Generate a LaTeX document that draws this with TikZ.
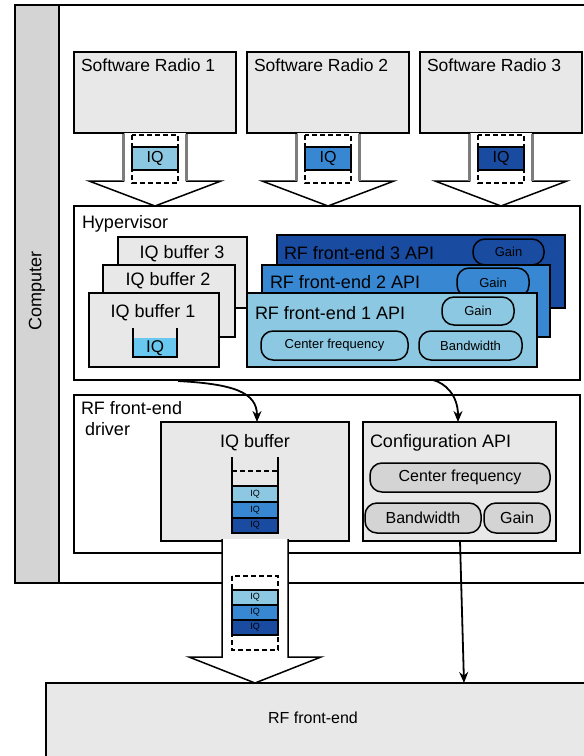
\documentclass[tikz,border=0pt]{standalone}
\usepackage{fontspec}
\setmainfont{Liberation Sans}
\usetikzlibrary{arrows.meta,calc}

\definecolor{boxgray}{RGB}{232,232,232}
\definecolor{stripgray}{RGB}{212,212,212}
\definecolor{blueA}{RGB}{140,200,225}
\definecolor{blueB}{RGB}{55,135,210}
\definecolor{blueC}{RGB}{25,75,160}
\definecolor{iqcyan}{RGB}{105,200,240}
\definecolor{shaftgray}{RGB}{125,125,125}

\tikzset{
  every node/.style={inner sep=0pt, outer sep=0pt},
  box/.style={draw=black, line width=1.7pt, fill=boxgray, anchor=north west},
  plainbox/.style={draw=black, line width=1.7pt, fill=white, anchor=north west},
  pill/.style={draw=black, line width=1.5pt, rounded corners=12pt, anchor=north west},
  lbl/.style={font=\fontsize{18}{21}\selectfont, anchor=west},
  clbl/.style={font=\fontsize{18}{21}\selectfont},
  small/.style={font=\fontsize{13}{15}\selectfont},
  mid/.style={font=\fontsize{16}{18}\selectfont},
  tiny/.style={font=\fontsize{9}{10}\selectfont},
  link/.style={line width=1.8pt, -{Stealth[length=11pt,width=9pt]}},
  blockarrow/.style={draw=black, line width=1.5pt, fill=white},
  cell/.style={draw=black, line width=1.3pt},
  dashbox/.style={draw=black, line width=1.4pt, dash pattern=on 5pt off 3pt},
}

\begin{document}
\begin{tikzpicture}[x=1pt,y=-1pt]
\useasboundingbox (0,0) rectangle (584,756);
\clip (0,0) rectangle (584,756);

% computer enclosure with its side strip
\node[plainbox, minimum width=610pt, minimum height=578pt] (computer) at (15,5) {};
\node[draw=black, line width=1.7pt, fill=stripgray, anchor=north west,
      minimum width=44pt, minimum height=578pt] (strip) at (15,5) {};
\node[clbl, rotate=90] (complbl) at (37,291) {Computer};

% software radios
\node[box, minimum width=162pt, minimum height=81pt] (sr1) at (74,52) {};
\node[box, minimum width=162pt, minimum height=81pt] (sr2) at (247,52) {};
\node[box, minimum width=162pt, minimum height=81pt] (sr3) at (420,52) {};
\node[lbl, font=\fontsize{17.5}{20}\selectfont] (sr1lbl) at (81,65) {Software Radio 1};
\node[lbl, font=\fontsize{17.5}{20}\selectfont] (sr2lbl) at (254,65) {Software Radio 2};
\node[lbl, font=\fontsize{17.5}{20}\selectfont] (sr3lbl) at (427,65) {Software Radio 3};

% hypervisor
\node[plainbox, minimum width=506pt, minimum height=174pt] (hyp) at (74,206) {};
\node[lbl] (hyplbl) at (82,224) {Hypervisor};

% block arrows from the radios into the hypervisor
\foreach \s/\c in {sr1/blueA, sr2/blueB, sr3/blueC}{
  \draw[blockarrow] ($(\s.south)+(-31.5,0)$) -- ($(\s.south)+(-31.5,48)$)
    -- ($(\s.south)+(-66,48)$) -- (\s.south |- hyp.north)
    -- ($(\s.south)+(66,48)$) -- ($(\s.south)+(31.5,48)$) -- ($(\s.south)+(31.5,0)$);
  \draw[shaftgray, line width=2.2pt] ($(\s.south)+(-31.5,1)$) -- ($(\s.south)+(-31.5,48)$);
  \draw[shaftgray, line width=2.2pt] ($(\s.south)+(31.5,1)$) -- ($(\s.south)+(31.5,48)$);
  \draw[dashbox] ($(\s.south)+(-23,2)$) rectangle ($(\s.south)+(23,50)$);
  \draw[cell, line width=1.5pt, fill=\c] ($(\s.south)+(-23,14)$) rectangle ($(\s.south)+(23,37)$);
  \node[mid] at ($(\s.south)+(0,25.5)$) {IQ};
}

% IQ buffers of the hypervisor
\node[box, minimum width=129pt, minimum height=71pt] (iqb3) at (118,237) {};
\node[box, minimum width=132pt, minimum height=72pt] (iqb2) at (103,265) {};
\node[box, minimum width=130pt, minimum height=74pt] (iqb1) at (89,293) {};
\node[clbl] (iqb3lbl) at (182,254) {IQ buffer 3};
\node[clbl] (iqb2lbl) at (168,281) {IQ buffer 2};
\node[clbl] (iqb1lbl) at (153,313) {IQ buffer 1};
\fill[iqcyan] (133,338) rectangle (177,357);
\draw[black, line width=1.6pt] (133,328) -- (133,357) -- (177,357) -- (177,328);
\node[mid, font=\fontsize{17}{19}\selectfont] (iqcup) at (155,348) {IQ};

% RF front-end APIs
\node[box, fill=blueC, minimum width=288pt, minimum height=73pt] (rf3) at (277,235) {};
\node[lbl] (rf3lbl) at (284,253) {RF front-end 3 API};
\node[pill, fill=blueC, minimum width=71pt, minimum height=26pt] (g3) at (473,239) {};
\node[small] at (g3.center) {Gain};

\node[box, fill=blueB, minimum width=288pt, minimum height=72pt] (rf2) at (262,265) {};
\node[lbl] (rf2lbl) at (270,282) {RF front-end 2 API};
\node[pill, fill=blueB, minimum width=72pt, minimum height=29pt] (g2) at (457,268) {};
\node[small] at (g2.center) {Gain};

\node[box, fill=blueA, minimum width=290pt, minimum height=74pt] (rf1) at (247,293) {};
\node[lbl] (rf1lbl) at (255,313) {RF front-end 1 API};
\node[pill, fill=blueA, minimum width=72pt, minimum height=28pt] (g1) at (442,297) {};
\node[small] at (g1.center) {Gain};
\node[pill, fill=blueA, minimum width=147pt, minimum height=29pt] (cf1) at (261,331) {};
\node[small] at (cf1.center) {Center frequency};
\node[pill, fill=blueA, minimum width=103pt, minimum height=29pt] (bw1) at (419,331) {};
\node[small] at (bw1.center) {Bandwidth};

% RF front-end driver
\node[plainbox, minimum width=506pt, minimum height=158pt] (drv) at (74,395) {};
\node[lbl, align=left, anchor=north west] (drvlbl) at (81,401) {RF front-end\\\hspace{4pt}driver};

\node[box, minimum width=188pt, minimum height=119pt] (iqbuf) at (161,422) {};
\node[clbl] (iqbuflbl) at ($(iqbuf.north)+(0,21)$) {IQ buffer};
\draw[black, line width=1.5pt] (232,457) -- (232,486);
\draw[black, line width=1.5pt] (278,457) -- (278,486);
\draw[dashbox] (232,471) -- (278,471);
\draw[cell, fill=blueA] (232,486) rectangle (278,502);
\draw[cell, fill=blueB] (232,502) rectangle (278,518);
\draw[cell, fill=blueC] (232,518) rectangle (278,533);
\node[tiny] at (255,494) {IQ};
\node[tiny] at (255,510) {IQ};
\node[tiny] at (255,525.5) {IQ};

\node[box, minimum width=193pt, minimum height=119pt] (conf) at (363,422) {};
\node[lbl] (conflbl) at (370,443) {Configuration API};
\node[pill, fill=stripgray, minimum width=180pt, minimum height=29pt] (ccf) at (370,463) {};
\node[mid] at (ccf.center) {Center frequency};
\node[pill, fill=stripgray, minimum width=116pt, minimum height=30pt] (cbw) at (365,503) {};
\node[mid] at (cbw.center) {Bandwidth};
\node[pill, fill=stripgray, minimum width=66pt, minimum height=30pt] (cgain) at (484,503) {};
\node[mid] at (cgain.center) {Gain};

% RF front-end hardware
\node[box, minimum width=560pt, minimum height=90pt] (rffe) at (46,683) {};
\node[mid] (rffelbl) at (313,718) {RF front-end};

% block arrow from the driver buffer to the hardware
\draw[blockarrow] ($(iqbuf.south)+(-33,-2)$) -- ($(iqbuf.south)+(-33,116)$)
  -- ($(iqbuf.south)+(-66,116)$) -- (iqbuf.south |- rffe.north)
  -- ($(iqbuf.south)+(66,116)$) -- ($(iqbuf.south)+(33,116)$) -- ($(iqbuf.south)+(33,-2)$);
\draw[dashbox] ($(iqbuf.south)+(-23,35)$) rectangle ($(iqbuf.south)+(23,109)$);
\draw[cell, fill=blueA] ($(iqbuf.south)+(-23,49)$) rectangle ($(iqbuf.south)+(23,64)$);
\draw[cell, fill=blueB] ($(iqbuf.south)+(-23,64)$) rectangle ($(iqbuf.south)+(23,79)$);
\draw[cell, fill=blueC] ($(iqbuf.south)+(-23,79)$) rectangle ($(iqbuf.south)+(23,94)$);
\node[tiny] at ($(iqbuf.south)+(0,56.5)$) {IQ};
\node[tiny] at ($(iqbuf.south)+(0,71.5)$) {IQ};
\node[tiny] at ($(iqbuf.south)+(0,86.5)$) {IQ};

% control and data links
\coordinate (h1) at ($(hyp.south west)+(104,1)$);
\coordinate (h2) at ($(hyp.south west)+(359,0)$);
\coordinate (iqin) at ($(iqbuf.north west)+(96,0)$);
\coordinate (cfin) at ($(conf.north west)+(95,0)$);
\coordinate (cfout) at ($(conf.south west)+(97,0)$);
\coordinate (fein) at ($(rffe.north west)+(418,0)$);
\draw[link] (h1) .. controls ($(h1)+(55,3)$) and ($(iqin)+(0,-30)$) .. (iqin);
\draw[link] (h2) .. controls ($(h2)+(12,3)$) and ($(cfin)+(0,-27)$) .. (cfin);
\draw[link] (cfout) -- (fein);

\end{tikzpicture}
\end{document}
